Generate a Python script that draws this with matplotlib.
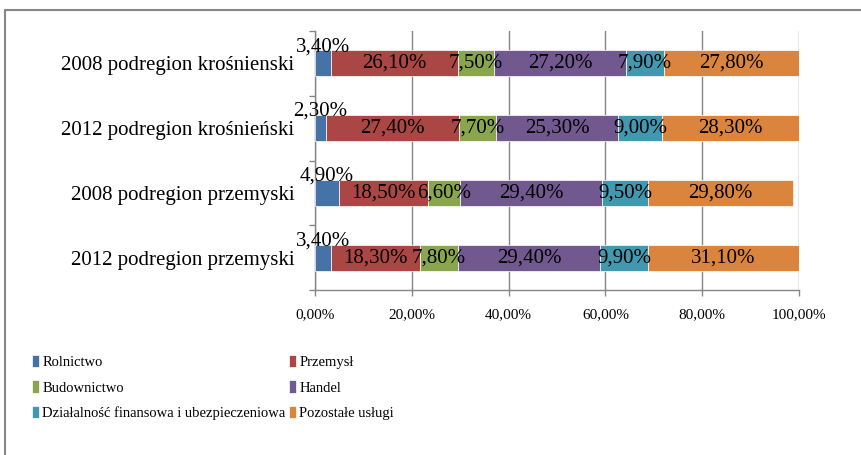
# Stacked bar chart: employment structure by sector, podregion krośnieński / przemyski

import matplotlib
matplotlib.use("Agg")
import matplotlib.pyplot as plt
from matplotlib.patches import Rectangle

categories = [
    "2008 podregion krośnienski",
    "2012 podregion krośnieński",
    "2008 podregion przemyski",
    "2012 podregion przemyski",
]
series_names = [
    "Rolnictwo",
    "Przemysł",
    "Budownictwo",
    "Handel",
    "Działalność finansowa i ubezpieczeniowa",
    "Pozostałe usługi",
]
rolnictwo = [3.4, 2.3, 4.9, 3.4]
przemysl = [26.1, 27.4, 18.5, 18.3]
budownictwo = [7.5, 7.7, 6.6, 7.8]
handel = [27.2, 25.3, 29.4, 29.4]
finanse = [7.9, 9.0, 9.5, 9.9]
pozostale = [27.8, 28.3, 29.8, 31.1]
x_ticks = [0, 20, 40, 60, 80, 100]

series = [rolnictwo, przemysl, budownictwo, handel, finanse, pozostale]
colors = ["#4572A7", "#AA4643", "#89A54E", "#71588F", "#4198AF", "#DB843D"]
grid_color = "#868686"

plt.rcParams["font.family"] = ["Liberation Serif", "DejaVu Serif"]

fig = plt.figure(figsize=(8.61, 4.55), dpi=100)
ax = fig.add_axes([315 / 861, 1 - 290 / 455, 484 / 861, 259 / 455])

ypos = [3, 2, 1, 0]
left = [0.0] * len(categories)
handles = []
for i, (vals, name, col) in enumerate(zip(series, series_names, colors)):
    bars = ax.barh(ypos, vals, left=left, height=0.4, color=col,
                   edgecolor="white", linewidth=0.5, label=name, zorder=3)
    handles.append(bars)
    for y, l, v in zip(ypos, left, vals):
        txt = f"{v:.2f}%".replace(".", ",")
        if i == 0:
            # small first segment: label sits above the bar
            ax.annotate(txt, (l + v / 2, y), xytext=(0, 12), textcoords="offset points",
                        ha="center", va="center", fontsize=15, zorder=4)
        else:
            ax.text(l + v / 2, y, txt, ha="center", va="center", fontsize=15, zorder=4)
    left = [a + b for a, b in zip(left, vals)]

ax.set_xlim(0, 100)
ax.set_ylim(-0.5, 3.5)

ax.set_xticks(x_ticks)
ax.set_xticklabels([f"{t:.2f}%".replace(".", ",") for t in x_ticks], fontsize=11)
ax.tick_params(axis="x", length=4, width=1, color=grid_color, pad=9)
ax.xaxis.grid(True, color=grid_color, linewidth=1, zorder=0)

ax.set_yticks([-0.5, 0.5, 1.5, 2.5, 3.5])
ax.set_yticklabels([])
ax.tick_params(axis="y", which="major", length=4, width=1, color=grid_color)
ax.set_yticks(ypos, minor=True)
ax.set_yticklabels(categories, minor=True, fontsize=15)
ax.tick_params(axis="y", which="minor", length=0, pad=15)

for s in ["top", "right"]:
    ax.spines[s].set_visible(False)
for s in ["left", "bottom"]:
    ax.spines[s].set_color(grid_color)
    ax.spines[s].set_linewidth(1)

# legend in two separate columns, filled row by row like the original
leg_kw = dict(loc="upper left", frameon=False, fontsize=10.5, handlelength=0.5,
              handleheight=0.9, handletextpad=0.2, labelspacing=0.78,
              borderaxespad=0, borderpad=0)
col1 = [0, 2, 4]
col2 = [1, 3, 5]
fig.legend([handles[k] for k in col1], [series_names[k] for k in col1],
           bbox_to_anchor=(32 / 861, 1 - 355 / 455), **leg_kw)
fig.legend([handles[k] for k in col2], [series_names[k] for k in col2],
           bbox_to_anchor=(289 / 861, 1 - 355 / 455), **leg_kw)

# outer chart frame
fig.patches.append(Rectangle((5 / 861, -0.05), 1.1, 1 - 10 / 455 + 0.05,
                             transform=fig.transFigure, fill=False,
                             edgecolor=grid_color, linewidth=1.5))

fig.savefig("out.png", dpi=100)
